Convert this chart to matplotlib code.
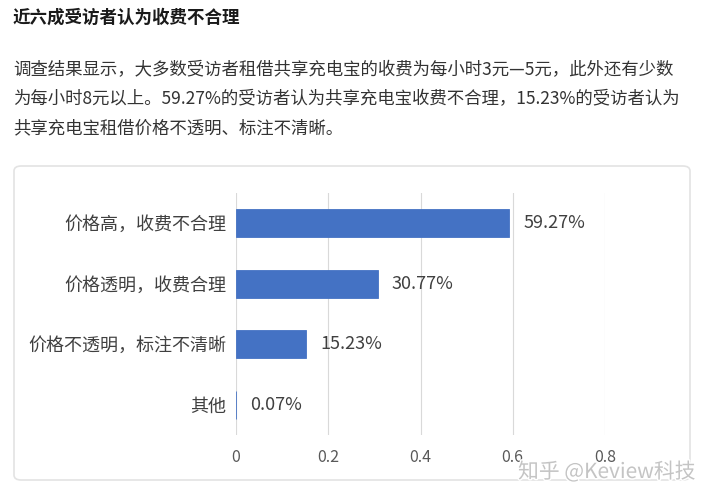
import matplotlib
matplotlib.use("Agg")
import matplotlib.pyplot as plt
from matplotlib.patches import FancyBboxPatch
import matplotlib.patheffects as pe

plt.rcParams['font.family'] = ['Noto Sans CJK SC', 'DejaVu Sans']

categories = ["价格高，收费不合理", "价格透明，收费合理", "价格不透明，标注不清晰", "其他"]
values = [0.5927, 0.3077, 0.1523, 0.0007]
value_labels = ["59.27%", "30.77%", "15.23%", "0.07%"]
xticks = [0, 0.2, 0.4, 0.6, 0.8]
xtick_labels = ["0", "0.2", "0.4", "0.6", "0.8"]

title = "近六成受访者认为收费不合理"
para = ["调查结果显示，大多数受访者租借共享充电宝的收费为每小时3元—5元，此外还有少数",
        "为每小时8元以上。59.27%的受访者认为共享充电宝收费不合理，15.23%的受访者认为",
        "共享充电宝租借价格不透明、标注不清晰。"]

W, H = 715, 500
fig = plt.figure(figsize=(W/100, H/100), dpi=100)
fig.patch.set_facecolor("white")

def fx(x): return x / W
def fy(y): return 1 - y / H

fig.text(fx(13), fy(18), title, fontsize=12.6, fontweight='bold', color="#1a1a1a", va='center', ha='left')
for i, line in enumerate(para):
    fig.text(fx(13), fy(70 + 29 * i), line, fontsize=12.55, color="#333333", va='center', ha='left')

card = FancyBboxPatch((fx(14), fy(480)), fx(690) - fx(14), fy(166) - fy(480),
                      boxstyle="round,pad=0,rounding_size=0.01",
                      transform=fig.transFigure, facecolor="white", edgecolor="#e3e3e3",
                      linewidth=1.2, zorder=-5)
fig.patches.append(card)

ax = fig.add_axes([fx(236), fy(435), fx(605) - fx(236), fy(193) - fy(435)])
ax.set_zorder(2)
ax.set_facecolor("none")
y = list(range(len(categories)))
ax.barh(y, values, height=0.47, color="#4472C4", edgecolor="#4472C4", linewidth=0.6, zorder=3)
ax.set_ylim(len(categories) - 0.5, -0.5)
ax.set_xlim(0, 0.8)
ax.set_yticks(y)
ax.set_yticklabels(categories, fontsize=13, color="#404040")
ax.set_xticks(xticks)
ax.set_xticklabels(xtick_labels, fontsize=11.5, color="#595959")
ax.tick_params(axis='both', length=0)
ax.tick_params(axis='y', pad=7)
ax.tick_params(axis='x', pad=10)
for s in ax.spines.values():
    s.set_visible(False)
ax.grid(axis='x', color="#d9d9d9", linewidth=0.8, zorder=0)
for yi, v, lab in zip(y, values, value_labels):
    ax.annotate(lab, (v, yi), xytext=(10, 0), textcoords='offset points',
                va='center', ha='left', fontsize=13, color="#404040")

fig.text(fx(607), fy(472), "知乎 @Keview科技", fontsize=15, color="#c4c4c4", ha='center', va='center',
         path_effects=[pe.withStroke(linewidth=2, foreground="white")], zorder=5)

fig.savefig("out.png", dpi=100)
